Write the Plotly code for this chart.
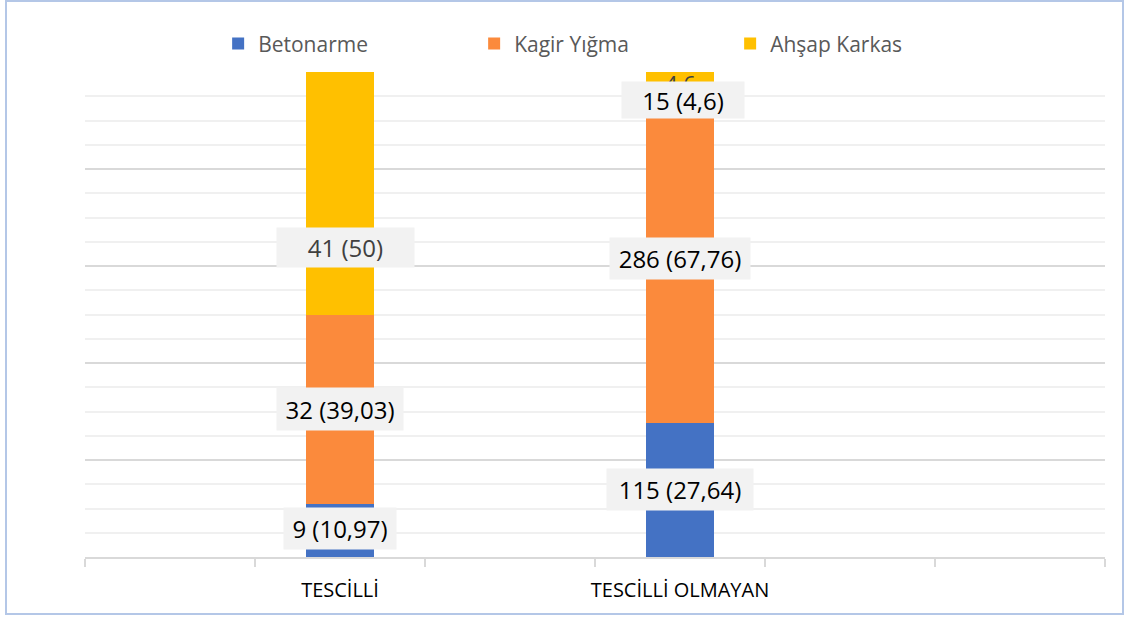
import plotly.graph_objects as go

# Building groups and construction types
categories = ["TESCİLLİ", "TESCİLLİ OLMAYAN"]
cat_pos = [1.5, 3.5]          # centre of the 2nd and 4th slot on a 6-slot axis
series_names = ["Betonarme", "Kagir Yığma", "Ahşap Karkas"]
counts = [[9, 115], [32, 286], [41, 15]]
percents = [[10.97, 27.64], [39.03, 67.76], [50, 4.6]]
colors = ["#4472C4", "#FB8A3C", "#FFC000"]

# label box geometry (px): widths, heights, vertical nudges, horizontal nudges, text colour
box_w = [[112, 146], [126, 140], [137, 122]]
box_h = [[41, 41], [42, 41], [39, 36]]
box_dy = [[2, 0], [0, 0], [-54, -17]]
box_dx = [[0, 0], [0, 0], [5, 3]]
text_col = [["#000000", "#000000"], ["#000000", "#000000"], ["#404040", "#000000"]]

FONT = "Open Sans, Noto Sans, sans-serif"

fig = go.Figure()
for i, name in enumerate(series_names):
    fig.add_trace(go.Bar(
        x=cat_pos, y=percents[i], name=name, width=0.4,
        marker=dict(color=colors[i], line=dict(width=0)),
        hoverinfo="skip",
    ))

annotations = []
# small inside value of the thin yellow segment, partly hidden by its callout
bottom = [sum(percents[k][1] for k in range(2))]
annotations.append(dict(
    x=cat_pos[1], y=bottom[0] + percents[2][1] / 2, xref="x", yref="y",
    text=str(percents[2][1]).replace(".", ","), showarrow=False,
    font=dict(family=FONT, size=22, color="#404040"),
))

for j in range(len(categories)):
    base = 0.0
    for i in range(len(series_names)):
        mid = base + percents[i][j] / 2
        base += percents[i][j]
        pct = ("%g" % percents[i][j]).replace(".", ",")
        annotations.append(dict(
            x=cat_pos[j], y=mid, xref="x", yref="y",
            text="%d (%s)" % (counts[i][j], pct),
            showarrow=False, bgcolor="#F2F2F2", borderpad=0,
            width=box_w[i][j], height=box_h[i][j],
            xshift=box_dx[i][j], yshift=box_dy[i][j],
            font=dict(family=FONT, size=24, color=text_col[i][j]),
        ))

fig.update_layout(
    width=1134, height=617,
    margin=dict(l=85, r=29, t=72, b=60),
    paper_bgcolor="white", plot_bgcolor="white",
    barmode="stack",
    font=dict(family=FONT),
    showlegend=True,
    legend=dict(
        orientation="h", x=0.507, xanchor="center", y=1.058, yanchor="middle",
        traceorder="normal",
        font=dict(family=FONT, size=21, color="#595959"),
        entrywidth=211, entrywidthmode="pixels",
        bgcolor="rgba(0,0,0,0)", itemclick=False,
    ),
    xaxis=dict(
        range=[0, 6], tickvals=cat_pos, ticktext=categories,
        ticks="", showgrid=False, zeroline=False,
        showline=True, linecolor="#D9D9D9", linewidth=1.5,
        tickfont=dict(family=FONT, size=20, color="#000000"),
        ticklabelstandoff=14,
        minor=dict(tick0=0, dtick=1, ticks="outside", ticklen=8,
                   tickcolor="#D9D9D9", tickwidth=1.5, showgrid=False),
        fixedrange=True,
    ),
    yaxis=dict(
        range=[0, 100], dtick=20, showticklabels=False, ticks="",
        showgrid=True, gridcolor="#D9D9D9", gridwidth=1.5, zeroline=False,
        minor=dict(dtick=5, showgrid=True, gridcolor="#F0F0F0", gridwidth=2),
        fixedrange=True,
    ),
    annotations=annotations,
    shapes=[dict(
        type="rect", xref="paper", yref="paper",
        x0=(6 - 85) / 1020, x1=(1123 - 85) / 1020,
        y0=(557 - 614) / 485, y1=(557 - 1) / 485,
        line=dict(color="#B4C7E7", width=2), fillcolor="rgba(0,0,0,0)",
        layer="below",
    )],
)

fig.write_html("out.html")
